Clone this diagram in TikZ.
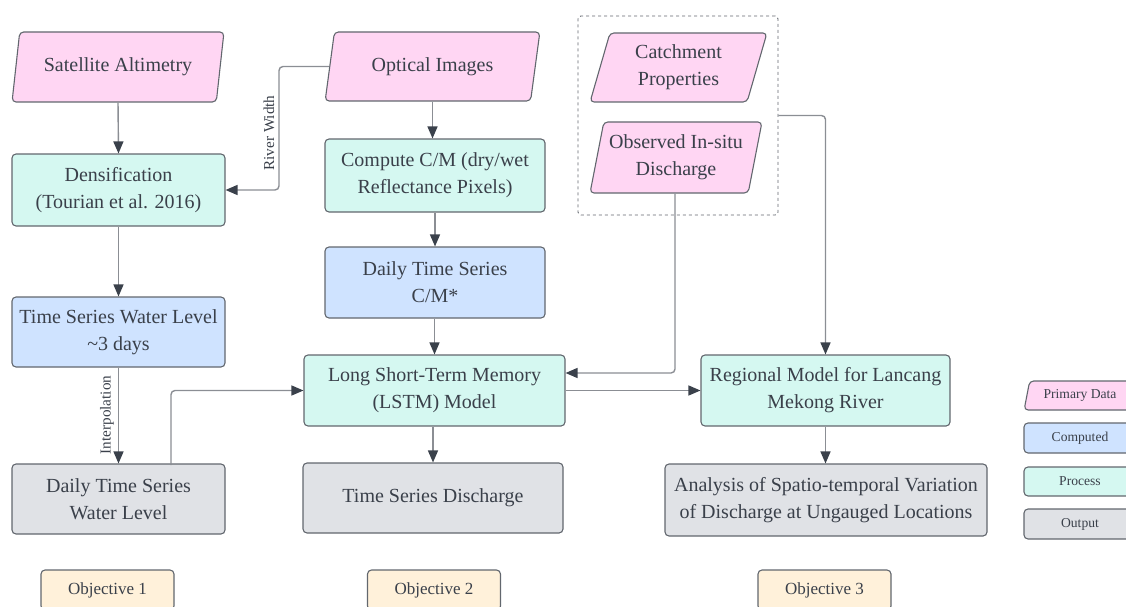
\documentclass[tikz,border=0pt]{standalone}
\usepackage{fontspec}
\setmainfont{Liberation Serif}
\usetikzlibrary{shapes.geometric,arrows.meta}
\definecolor{pinkf}{HTML}{FFD6F3}
\definecolor{bluef}{HTML}{CFE3FF}
\definecolor{mintf}{HTML}{D5F8F1}
\definecolor{greyf}{HTML}{E0E2E6}
\definecolor{creamf}{HTML}{FFF1DA}
\definecolor{strokec}{HTML}{62676E}
\definecolor{linec}{HTML}{8B8E94}
\definecolor{tipc}{HTML}{3A414B}
\definecolor{textc}{HTML}{3A404A}
\begin{document}
\begin{tikzpicture}[x=1pt,y=-1pt,
  base/.style={draw=strokec, line width=1.1pt, rounded corners=4pt, text=textc,
    align=center, inner sep=2pt, font=\fontsize{20}{27}\selectfont},
  proc/.style={base, rectangle, fill=mintf},
  compd/.style={base, rectangle, fill=bluef},
  outp/.style={base, rectangle, fill=greyf},
  prim/.style={base, fill=pinkf, trapezium, trapezium left angle=75,
    trapezium right angle=105, trapezium stretches=true},
  legfont/.style={font=\fontsize{13.6}{16}\selectfont},
  objbox/.style={base, rectangle, fill=creamf, minimum width=133, minimum height=40,
    font=\fontsize{17}{20}\selectfont},
  lbl/.style={text=textc, rotate=90, inner sep=0pt, font=\fontsize{15.2}{18}\selectfont},
  arr/.style={draw=linec, line width=1.4pt, rounded corners=4pt,
    -{Triangle[length=12pt,width=10pt,color=tipc]}},
  groupbox/.style={draw=strokec, dashed, line width=0.9pt, rounded corners=3pt,
    rectangle, inner sep=0pt},
]
\path[use as bounding box] (0,0) rectangle (1126,607);
\clip (0,0) rectangle (1126,607);

% column 1
\node[prim, minimum width=212, minimum height=70] (sat) at (118,67) {Satellite Altimetry};
\node[proc, minimum width=213, minimum height=72] (dens) at (118.5,190) {Densification\\(Tourian et al. 2016)};
\node[compd, minimum width=213, minimum height=70] (tswl) at (118.5,332) {Time Series Water Level\\\textasciitilde3 days};
\node[outp, minimum width=213, minimum height=70] (dwl) at (118.5,499) {Daily Time Series\\Water Level};

% column 2
\node[prim, minimum width=215, minimum height=69] (opt) at (432.5,66.5) {Optical Images};
\node[proc, minimum width=220, minimum height=73] (comp) at (435,175.5) {Compute C/M (dry/wet\\Reflectance Pixels)};
\node[compd, minimum width=220, minimum height=71] (dcm) at (435,282.5) {Daily Time Series\\C/M*};
\node[proc, minimum width=261, minimum height=71] (lstm) at (434.5,390.5) {Long Short-Term Memory\\(LSTM) Model};
\node[outp, minimum width=260, minimum height=70] (tsd) at (433,498) {Time Series Discharge};

% column 3
\node[groupbox, minimum width=200, minimum height=199] (grp) at (678,115.5) {};
\node[prim, minimum width=177, minimum height=69] (cat) at (678.5,67.5) {Catchment\\Properties};
\node[prim, minimum width=172, minimum height=71] (obs) at (676,157.5) {Observed In-situ\\Discharge};
\node[proc, minimum width=249, minimum height=71] (reg) at (825.5,390.5) {Regional Model for Lancang\\Mekong River};
\node[outp, minimum width=322, minimum height=72] (ana) at (826,500) {Analysis of Spatio-temporal Variation\\of Discharge at Ungauged Locations};

% legend
\node[prim, legfont, minimum width=112, minimum height=29] (lp) at (1080,395.5) {Primary Data};
\node[compd, legfont, minimum width=112, minimum height=30] (lc) at (1080,438) {Computed};
\node[proc, legfont, minimum width=112, minimum height=29] (lpr) at (1080,481.5) {Process};
\node[outp, legfont, minimum width=112, minimum height=30] (lo) at (1080,524) {Output};

% objectives
\node[objbox] (o1) at (107.5,590) {Objective 1};
\node[objbox] (o2) at (434,590) {Objective 2};
\node[objbox] (o3) at (824.5,590) {Objective 3};

% connectors
\coordinate (rw) at (279,66.5);
\coordinate (up) at (171,465);
\draw[arr] (sat.south) -- (dens.north);
\draw[arr] (opt.west) -- (rw) |- (dens.east);
\node[lbl] (rwl) at (269,133) {River Width};
\draw[arr] (opt.south) -- (opt.south |- comp.north);
\draw[arr] (comp.south -| dcm.north) -- (dcm.north);
\draw[arr] (dcm.south -| lstm.north) -- (lstm.north);
\draw[arr] (dens.south) -- (tswl.north);
\draw[arr] (tswl.south) -- (dwl.north);
\node[lbl] (intl) at (107,415) {Interpolation};
\draw[arr] (up) |- (lstm.west);
\draw[arr] (obs.south -| 675,0) |- ([yshift=17.5pt]lstm.east);
\draw[arr] (grp.east) -| (reg.north);
\draw[arr] (lstm.east) -- (reg.west);
\draw[arr] (lstm.south -| tsd.north) -- (tsd.north);
\draw[arr] (reg.south) -- (reg.south |- ana.north);
\end{tikzpicture}
\end{document}
